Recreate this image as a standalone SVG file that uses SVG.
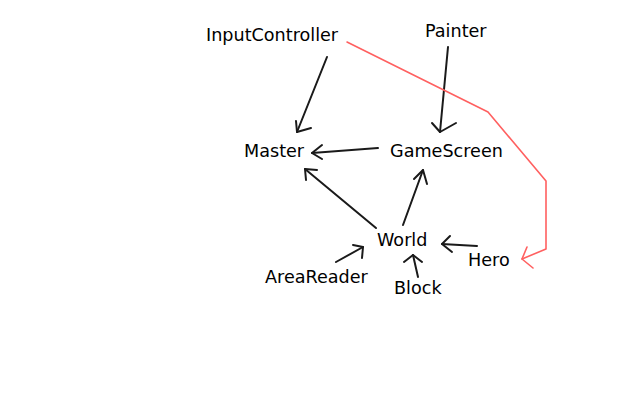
<svg xmlns="http://www.w3.org/2000/svg" width="640" height="400" viewBox="0 0 640 400">
<style>
text{font-family:"DejaVu Sans",sans-serif;font-size:17.6px;fill:#000}
.e{fill:none;stroke:#1a1a1a;stroke-width:2;stroke-linecap:round;stroke-linejoin:round}
.r{fill:none;stroke:#ff6060;stroke-width:1.6;stroke-linecap:round;stroke-linejoin:round}
</style>
<rect width="640" height="400" fill="#fff"/>
<g id="connectors">
<g id="e-input-master"><path class="e" d="M327,57 L297,132"/><path class="e" d="M296,121 L297,132 L311,128"/></g>
<g id="e-painter-gamescreen"><path class="e" d="M448,47 L440,132"/><path class="e" d="M432,123 L440,132 L456,123"/></g>
<g id="e-gamescreen-master"><path class="e" d="M378,148 L312,153"/><path class="e" d="M322,145 L312,153 L322,159"/></g>
<g id="e-world-master"><path class="e" d="M376,228 L305,169"/><path class="e" d="M306,180 L305,169 L317,170"/></g>
<g id="e-world-gamescreen"><path class="e" d="M403,225 L423,170"/><path class="e" d="M414,179 L423,170 L427,184"/></g>
<g id="e-areareader-world"><path class="e" d="M336,262 L363,247"/><path class="e" d="M353,245 L363,247 L362,258"/></g>
<g id="e-block-world"><path class="e" d="M418,277 L413,255"/><path class="e" d="M404,262 L413,255 L422,262"/></g>
<g id="e-hero-world"><path class="e" d="M477,246 L442,244"/><path class="e" d="M450,236 L442,244 L452,252"/></g>
<g id="e-input-hero"><path class="r" d="M347,42 L488,112 L546,181 L546,249 L522,259"/><path class="r" d="M527,247 L522,259 L533,268"/></g>
</g>
<g id="InputController"><text x="206" y="41">InputController</text></g>
<g id="Painter"><text x="425" y="37">Painter</text></g>
<g id="Master"><text x="244" y="157">Master</text></g>
<g id="GameScreen"><text x="390" y="157">GameScreen</text></g>
<g id="World"><text x="377" y="246">World</text></g>
<g id="Hero"><text x="468" y="266">Hero</text></g>
<g id="AreaReader"><text x="265" y="283">AreaReader</text></g>
<g id="Block"><text x="394" y="294">Block</text></g>
</svg>
